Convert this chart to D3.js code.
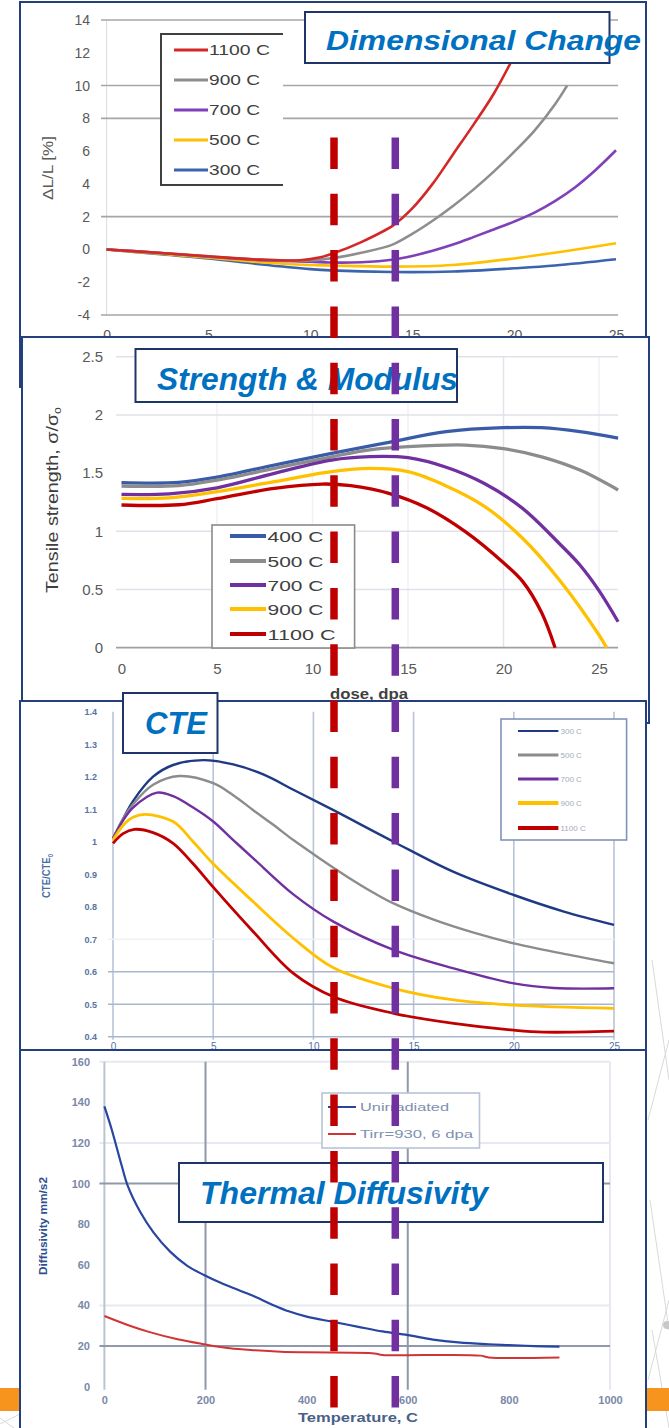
<!DOCTYPE html>
<html><head><meta charset="utf-8">
<script src="https://cdn.jsdelivr.net/npm/d3@7"></script>
<style>body{margin:0;background:#fff;} svg{display:block;}</style>
</head><body>
<svg id="c" width="669" height="1428"></svg>
<script>
// ---------------- DATA ----------------
// Panel 1: Dimensional change, dose (dpa) vs dL/L (%)
const dcSeries = ["1100 C","900 C","700 C","500 C","300 C"];
const dc1100 = [[0,0],[2.5,-0.2],[5,-0.42],[7.5,-0.62],[9.5,-0.66],[10.5,-0.48],[11.1,-0.25],[12.5,0.45],[14.1,1.5],[15,2.5],[16,4.0],[17,5.8],[18,7.6],[19,9.5],[20,11.8],[21,14.3]];
const dc900  = [[0,0],[2.5,-0.2],[5,-0.42],[7.5,-0.62],[10,-0.67],[11.1,-0.53],[12.5,-0.2],[14,0.28],[15,0.95],[16,1.75],[17,2.65],[18,3.65],[19,4.75],[20,5.95],[21,7.25],[22,8.85],[22.6,10.0]];
const dc700  = [[0,0],[2.5,-0.2],[5,-0.45],[7.5,-0.65],[10,-0.75],[11,-0.8],[12.5,-0.78],[14,-0.63],[15,-0.4],[16,-0.08],[17,0.3],[18,0.75],[19,1.22],[20,1.7],[21,2.25],[22,2.95],[23,3.8],[24,4.85],[25,6.05]];
const dc500  = [[0,0],[2.5,-0.25],[5,-0.5],[7.5,-0.78],[10,-0.95],[11,-0.98],[14,-1.05],[17,-0.95],[20,-0.55],[22,-0.2],[25,0.38]];
const dc300  = [[0,0],[2.5,-0.28],[5,-0.55],[7.5,-0.9],[10,-1.2],[11,-1.28],[14,-1.38],[17,-1.35],[20,-1.15],[22,-0.98],[25,-0.6]];
const dcXTicks = [0,5,10,15,20,25];
const dcYTicks = [-4,-2,0,2,4,6,8,10,12,14];
const dcGrid = [-4,2,8,10,14];

// Panel 2: Strength, dose vs sigma/sigma0
const smSeries = ["400 C","500 C","700 C","900 C","1100 C"];
const sm400  = [[0,1.418],[3,1.42],[5,1.465],[8,1.569],[11,1.67],[14,1.764],[17,1.856],[20,1.89],[22,1.89],[24,1.856],[26,1.80]];
const sm500  = [[0,1.389],[3,1.392],[5,1.44],[8,1.54],[11,1.64],[13,1.70],[15,1.727],[18,1.741],[20,1.71],[22,1.64],[24,1.526],[26,1.355]];
const sm700  = [[0,1.317],[2.5,1.322],[5,1.374],[8,1.498],[11,1.612],[13,1.641],[15,1.632],[17,1.55],[19,1.41],[21,1.197],[23,0.882],[24,0.71],[25,0.49],[26,0.223]];
const sm900  = [[0,1.283],[2.5,1.287],[5,1.34],[8,1.426],[11,1.512],[13,1.54],[15,1.512],[17,1.39],[19,1.215],[21,0.94],[23,0.567],[25,0.109],[25.4,0]];
const sm1100 = [[0,1.226],[3,1.228],[5,1.28],[8,1.369],[10.5,1.406],[12,1.392],[14,1.326],[16,1.2],[18,0.997],[20,0.73],[21,0.57],[22,0.3],[22.7,0]];
const smXTicks = [0,5,10,15,20,25];
const smYTicks = [0,0.5,1,1.5,2,2.5];
const smGrid = [0.5,1,2,2.5];

// Panel 3: CTE, dose vs CTE/CTE0
const cteSeries = ["300 C","500 C","700 C","900 C","1100 C"];
const cte300  = [[0,1.01],[0.5,1.07],[1,1.125],[2,1.2],[3,1.236],[4.5,1.251],[6,1.238],[7.5,1.207],[9,1.16],[11,1.097],[14,1.0],[17,0.907],[20,0.836],[22.5,0.785],[25,0.744]];
const cte500  = [[0,1.01],[0.5,1.07],[1,1.115],[2,1.175],[3.3,1.202],[5,1.18],[6,1.143],[7,1.097],[8,1.052],[9,1.005],[10,0.962],[11,0.92],[12,0.88],[13,0.843],[14,0.81],[16,0.76],[18,0.72],[20,0.687],[22.5,0.655],[25,0.626]];
const cte700  = [[0,1.01],[0.5,1.065],[1,1.105],[2.2,1.151],[3,1.14],[4,1.105],[5,1.062],[6,1.005],[7,0.949],[9,0.838],[11,0.754],[14,0.667],[17,0.61],[20,0.564],[22,0.55],[25,0.549]];
const cte900  = [[0,1.005],[0.5,1.05],[1,1.075],[1.6,1.084],[3,1.062],[4,1.0],[5,0.932],[7,0.815],[9,0.703],[11,0.612],[14,0.549],[17,0.513],[20,0.497],[25,0.487]];
const cte1100 = [[0,0.995],[0.5,1.025],[1.06,1.038],[2,1.028],[3,0.995],[4,0.932],[5,0.86],[7,0.723],[9,0.595],[11,0.523],[14,0.472],[17,0.441],[20,0.42],[21.5,0.414],[25,0.417]];
const cteXTicks = [0,5,10,15,20,25];
const cteYTicks = [0.4,0.5,0.6,0.7,0.8,0.9,1,1.1,1.2,1.3,1.4];

// Panel 4: Thermal diffusivity, temperature (C) vs diffusivity
const tdSeries = ["Unirradiated","Tirr=930, 6 dpa"];
const tdUnirr = [[0,138],[14,127],[34,109],[46,99],[71,86],[97,76],[130,66.5],[164,59.5],[197,55],[231,51],[265,47.6],[298,44.3],[332,40.4],[366,37],[400,34.5],[450,32],[500,29.6],[550,27.2],[600,25.4],[650,23.2],[700,21.8],[760,20.9],[800,20.5],[850,20],[900,19.7]];
const tdIrr   = [[0,34.8],[46,30.4],[88,27],[147,23.2],[197,20.9],[248,18.9],[298,17.9],[349,17.2],[400,16.9],[534,16.4],[550,15.6],[634,15.6],[744,15.3],[760,14.4],[900,14.4]];
const tdXTicks = [0,200,400,600,800,1000];
const tdYTicks = [0,20,40,60,80,100,120,140,160];

// ---------------- DRAWING ----------------
const FONT = '"Liberation Sans", Arial, Helvetica, sans-serif';
const NAVY = '#24407c';
const svg = d3.select('#c');
svg.append('rect').attr('width',669).attr('height',1428).attr('fill','#fff');

// background decorations
const deco = svg.append('g').attr('stroke','#d9d9d9').attr('stroke-width',1).attr('fill','none');
[[652,960,669,1080],[648,1120,669,1040],[650,1200,669,1330],[669,1300,648,1380],[652,1330,669,1428],[0,1424,20,1414],[0,1418,14,1428]].forEach(l=>{
  deco.append('line').attr('x1',l[0]).attr('y1',l[1]).attr('x2',l[2]).attr('y2',l[3]);
});
svg.append('circle').attr('cx',667).attr('cy',1325).attr('r',4).attr('fill','#c8c8c8');
svg.append('rect').attr('x',0).attr('y',1388).attr('width',20).attr('height',23).attr('fill','#f7941d');
svg.append('rect').attr('x',646).attr('y',1388).attr('width',23).attr('height',23).attr('fill','#f7941d');

function mkLine(xs, ys){
  return d3.line().x(d=>xs(d[0])).y(d=>ys(d[1])).curve(d3.curveCatmullRom.alpha(0.5));
}
function yAxis(g, scale, ticks, x, pad, size, color, weight){
  const a = g.append('g').attr('transform',`translate(${x},0)`)
    .call(d3.axisLeft(scale).tickValues(ticks).tickSize(0).tickPadding(pad).tickFormat(d=>String(d)));
  a.select('.domain').remove();
  a.attr('font-family',FONT).attr('font-size',size);
  a.selectAll('text').attr('fill',color).attr('font-weight',weight||'normal');
  return a;
}
function xAxis(g, scale, ticks, y, pad, size, color, weight){
  const a = g.append('g').attr('transform',`translate(0,${y})`)
    .call(d3.axisBottom(scale).tickValues(ticks).tickSize(0).tickPadding(pad).tickFormat(d=>String(d)));
  a.select('.domain').remove();
  a.attr('font-family',FONT).attr('font-size',size);
  a.selectAll('text').attr('fill',color).attr('font-weight',weight||'normal');
  return a;
}
function txt(g, x, y, s, o){
  o = o||{};
  const t = g.append('text').attr('x',x).attr('y',y).attr('font-family',FONT)
    .attr('font-size',o.size||12).attr('fill',o.fill||'#444')
    .attr('font-weight',o.weight||'normal').attr('font-style',o.style||'normal')
    .attr('text-anchor',o.anchor||'start');
  if(o.rotate) t.attr('transform',`rotate(-90,${x},${y})`);
  if(o.len) t.attr('textLength',o.len).attr('lengthAdjust','spacingAndGlyphs');
  t.text(s);
  if(o.sub) t.append('tspan').attr('font-size',o.subSize||9).attr('dy',3).text(o.sub);
  return t;
}
function panelBox(x0,y0,x1,y1){
  svg.append('rect').attr('x',x0).attr('y',y0).attr('width',x1-x0).attr('height',y1-y0)
    .attr('fill','#fff').attr('stroke',NAVY).attr('stroke-width',2);
  return svg.append('g');
}

// ===== Panel 1 =====
{
  const g = panelBox(20,2,646,387);
  const x = d3.scaleLinear().domain([0,25]).range([106.6,616]);
  const y = d3.scaleLinear().domain([-4,14]).range([315,20]);
  g.append('line').attr('x1',x(0)).attr('x2',x(0)).attr('y1',y(14)).attr('y2',y(-4)).attr('stroke','#dcdcdc').attr('stroke-width',1);
  g.selectAll('.gl').data(dcGrid).join('line').attr('x1',101).attr('x2',618).attr('y1',d=>y(d)).attr('y2',d=>y(d))
    .attr('stroke','#a6a6a6').attr('stroke-width',1.6);
  yAxis(g, y, dcYTicks, 101, 11, 14, '#595959');
  xAxis(g, x, dcXTicks, 325, 5, 14, '#595959');
  txt(g, 53, 168, 'ΔL/L [%]', {size:14, fill:'#595959', anchor:'middle', rotate:true, len:64});
  const clip = svg.append('clipPath').attr('id','cp1');
  clip.append('rect').attr('x',x(0)-3).attr('y',y(14)).attr('width',x(25)-x(0)+6).attr('height',y(-4)-y(14));
  const cols = ['#d42828','#8e8e8e','#8040b8','#ffc000','#3b64ad'];
  const data = [dc1100,dc900,dc700,dc500,dc300];
  const lg = g.append('g').attr('clip-path','url(#cp1)');
  const ln = mkLine(x,y);
  data.slice().reverse().forEach((d,i)=>{
    lg.append('path').attr('d',ln(d)).attr('fill','none').attr('stroke',cols[4-i]).attr('stroke-width',2.6);
  });
  // legend
  g.append('rect').attr('x',161).attr('y',34).attr('width',122).attr('height',151).attr('fill','#fff');
  g.append('path').attr('d','M283,34 H161 V185 H283').attr('fill','none').attr('stroke','#404040').attr('stroke-width',2);
  const ly = [50,80,110,140,170];
  dcSeries.forEach((s,i)=>{
    g.append('line').attr('x1',174).attr('x2',208).attr('y1',ly[i]).attr('y2',ly[i]).attr('stroke',cols[i]).attr('stroke-width',3);
    txt(g, 209, ly[i]+5, s, {size:14, fill:'#404040', len: s.length===6?61:51});
  });
}

// ===== Panel 2 =====
{
  const g = panelBox(22,337,649,723);
  const x = d3.scaleLinear().domain([0,25]).range([121.5,599]);
  const y = d3.scaleLinear().domain([0,2.5]).range([647.7,356.7]);
  g.selectAll('.vg').data([5,10,15,20,25]).join('line').attr('x1',d=>x(d)).attr('x2',d=>x(d)).attr('y1',y(2.5)).attr('y2',y(0))
    .attr('stroke',d=>d===20?'#e2e4ea':'#f0f1f4').attr('stroke-width',1.5);
  g.selectAll('.gl').data(smGrid).join('line').attr('x1',116).attr('x2',618).attr('y1',d=>y(d)).attr('y2',d=>y(d))
    .attr('stroke','#e0e2ea').attr('stroke-width',1.5);
  g.append('line').attr('x1',116).attr('x2',618).attr('y1',y(0)).attr('y2',y(0)).attr('stroke','#a0a0a0').attr('stroke-width',1.8);
  yAxis(g, y, smYTicks, 113, 10, 15, '#595959');
  xAxis(g, x, smXTicks, 647.7, 16, 15, '#595959');
  txt(g, 57.5, 500, 'Tensile strength, σ/σ', {size:16, fill:'#404040', anchor:'middle', rotate:true, len:186, sub:'o', subSize:10});
  txt(g, 369, 699, 'dose, dpa', {size:15, fill:'#404040', weight:'bold', anchor:'middle', len:78});
  const cols = ['#3a5ca8','#8c8c8c','#7030a0','#ffc000','#c00000'];
  const data = [sm400,sm500,sm700,sm900,sm1100];
  const ln = mkLine(x,y);
  data.forEach((d,i)=>{
    g.append('path').attr('d',ln(d)).attr('fill','none').attr('stroke',cols[i]).attr('stroke-width',3.3);
  });
  g.append('rect').attr('x',212).attr('y',525).attr('width',142.6).attr('height',123).attr('fill','#fff').attr('stroke','#8a8a8a').attr('stroke-width',1.6);
  const ly = [536,561,585,609,634];
  smSeries.forEach((s,i)=>{
    g.append('line').attr('x1',230).attr('x2',266).attr('y1',ly[i]).attr('y2',ly[i]).attr('stroke',cols[i]).attr('stroke-width',4);
    txt(g, 267.5, ly[i]+6, s, {size:15, fill:'#404040', len: s.length===6?68:56});
  });
}

// ===== Panel 3 =====
{
  const g = panelBox(20,701,646,1070);
  const x = d3.scaleLinear().domain([0,25]).range([113,614]);
  const y = d3.scaleLinear().domain([0.4,1.4]).range([1036.7,711.7]);
  g.selectAll('.vg').data(cteXTicks).join('line').attr('x1',d=>x(d)).attr('x2',d=>x(d)).attr('y1',y(1.4)).attr('y2',y(0.4)+3)
    .attr('stroke','#b9c4d8').attr('stroke-width',1.6);
  g.append('line').attr('x1',x(0)-5).attr('x2',x(25)).attr('y1',y(0.7)).attr('y2',y(0.7)).attr('stroke','#eef1f6').attr('stroke-width',1.5);
  g.selectAll('.gl').data([0.4,0.5,0.6]).join('line').attr('x1',x(0)-5).attr('x2',x(25)).attr('y1',d=>y(d)).attr('y2',d=>y(d))
    .attr('stroke','#aab6cc').attr('stroke-width',1.6);
  yAxis(g, y, cteYTicks, 108, 11, 9, '#56739f', 'bold');
  xAxis(g, x, cteXTicks, 1036.7, 6, 10, '#56739f');
  txt(g, 50, 876, 'CTE/CTE', {size:11, fill:'#4a6fa5', weight:'bold', anchor:'middle', rotate:true, len:44, sub:'0', subSize:7});
  const cols = ['#1f3a84','#8c8c8c','#7030a0','#ffc000','#c00000'];
  const data = [cte300,cte500,cte700,cte900,cte1100];
  const ln = mkLine(x,y);
  data.forEach((d,i)=>{
    g.append('path').attr('d',ln(d)).attr('fill','none').attr('stroke',cols[i]).attr('stroke-width',i>=3?2.8:2.4);
  });
  g.append('rect').attr('x',501).attr('y',719).attr('width',125.6).attr('height',121).attr('fill','#fff').attr('stroke','#7f93b8').attr('stroke-width',1.6);
  const ly = [731,755,779,803,828];
  const lw = [2,3,3,4,4];
  cteSeries.forEach((s,i)=>{
    g.append('line').attr('x1',518).attr('x2',558.4).attr('y1',ly[i]).attr('y2',ly[i]).attr('stroke',cols[i]).attr('stroke-width',lw[i]);
    txt(g, 560.5, ly[i]+3, s, {size:8, fill:'#a3abbb'});
  });
}

// ===== Panel 4 =====
{
  const g = panelBox(20,1050,646,1440);
  const x = d3.scaleLinear().domain([0,1000]).range([104.4,610]);
  const y = d3.scaleLinear().domain([0,160]).range([1386.7,1061.7]);
  g.selectAll('.fg').data([160,120,40]).join('line').attr('x1',x(0)-5).attr('x2',x(1000)).attr('y1',d=>y(d)).attr('y2',d=>y(d))
    .attr('stroke','#e6e9ef').attr('stroke-width',2);
  g.append('line').attr('x1',x(1000)).attr('x2',x(1000)).attr('y1',y(160)).attr('y2',y(0)+3).attr('stroke','#e6e9ef').attr('stroke-width',2);
  g.append('line').attr('x1',x(0)).attr('x2',x(0)).attr('y1',y(160)).attr('y2',y(0)+3).attr('stroke','#bcc4d2').attr('stroke-width',2);
  g.selectAll('.vg').data([200,600]).join('line').attr('x1',d=>x(d)).attr('x2',d=>x(d)).attr('y1',y(160)).attr('y2',y(0)+3)
    .attr('stroke','#9098aa').attr('stroke-width',2);
  g.selectAll('.gl').data([100,20]).join('line').attr('x1',x(0)-5).attr('x2',x(1000)).attr('y1',d=>y(d)).attr('y2',d=>y(d))
    .attr('stroke','#9098aa').attr('stroke-width',2);
  yAxis(g, y, tdYTicks, 100, 10, 11, '#7a88a8', 'bold');
  xAxis(g, x, tdXTicks, 1386.7, 10, 11, '#7a88a8', 'bold');
  txt(g, 47, 1226, 'Diffusivity mm/s2', {size:11, fill:'#2f4f8f', weight:'bold', anchor:'middle', rotate:true, len:98});
  txt(g, 358, 1422, 'Temperature, C', {size:13, fill:'#4a5f8a', weight:'bold', anchor:'middle', len:120});
  const cols = ['#2845a0','#d03535'];
  const ln = mkLine(x,y);
  g.append('path').attr('d',ln(tdUnirr)).attr('fill','none').attr('stroke',cols[0]).attr('stroke-width',2.2);
  g.append('path').attr('d',ln(tdIrr)).attr('fill','none').attr('stroke',cols[1]).attr('stroke-width',2);
  g.append('rect').attr('x',322).attr('y',1093).attr('width',157.5).attr('height',55).attr('fill','#fff').attr('stroke','#b8c4d6').attr('stroke-width',1.6);
  const ly = [1107,1134];
  tdSeries.forEach((s,i)=>{
    g.append('line').attr('x1',328).attr('x2',356).attr('y1',ly[i]).attr('y2',ly[i]).attr('stroke',cols[i]).attr('stroke-width',2);
    txt(g, 360, ly[i]+4, s, {size:11, fill:'#8090b0', len: i===0?89:113});
  });
}

// ===== Title boxes =====
const titles = [
  {x0:305,y0:12,x1:609.5,y1:63,tx:326,ty:50,len:315,size:28,s:'Dimensional Change'},
  {x0:135.5,y0:349,x1:457,y1:402,tx:157,ty:390,len:301,size:31,s:'Strength & Modulus'},
  {x0:123,y0:693,x1:217.5,y1:753,tx:145,ty:734,len:62,size:31,s:'CTE'},
  {x0:179,y0:1163,x1:603,y1:1222,tx:200,ty:1204,len:288,size:31,s:'Thermal Diffusivity'}
];
titles.forEach(t=>{
  svg.append('rect').attr('x',t.x0).attr('y',t.y0).attr('width',t.x1-t.x0).attr('height',t.y1-t.y0)
    .attr('fill','#fff').attr('stroke','#1f3468').attr('stroke-width',2);
  txt(svg, t.tx, t.ty, t.s, {size:t.size, fill:'#0070c0', weight:'bold', style:'italic', len:t.len});
});

// ===== dashed markers =====
[{x:334,c:'#c00000'},{x:395.3,c:'#7030a0'}].forEach(m=>{
  svg.append('line').attr('x1',m.x).attr('x2',m.x).attr('y1',137.5).attr('y2',1428)
    .attr('stroke',m.c).attr('stroke-width',7.5).attr('stroke-dasharray','31.5 24.8');
});
</script>
</body></html>
